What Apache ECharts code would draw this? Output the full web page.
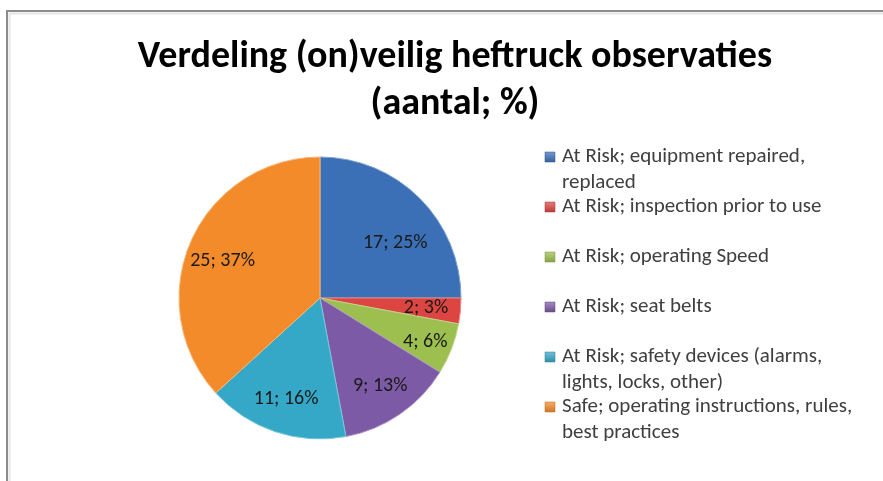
<!DOCTYPE html>
<html>
<head>
<meta charset="utf-8">
<script src="https://cdn.jsdelivr.net/npm/echarts@6/dist/echarts.min.js"></script>
<style>
  html, body { margin: 0; padding: 0; background: #fff; }
  #chart { width: 883px; height: 481px; }
</style>
</head>
<body>
<div id="chart"></div>
<script>
var titleLines = ['Verdeling (on)veilig heftruck observaties', '(aantal; %)'];
var categories = [
    'At Risk; equipment repaired,\nreplaced',
    'At Risk; inspection prior to use',
    'At Risk; operating Speed',
    'At Risk; seat belts',
    'At Risk; safety devices (alarms,\nlights, locks, other)',
    'Safe; operating instructions, rules,\nbest practices'
];
var counts = [17, 2, 4, 9, 11, 25];
var colors = ['#3b70b6', '#dc4541', '#9cbf4f', '#7d5aa5', '#35a8c7', '#f38b2a'];

var FONT = 'Carlito, "Liberation Sans Narrow", "Open Sans", sans-serif';

function shade(hex, f) {
    var n = parseInt(hex.slice(1), 16);
    var r = (n >> 16) & 255, g = (n >> 8) & 255, b = n & 255;
    function c(v) { return Math.max(0, Math.min(255, Math.round(f > 0 ? v + (255 - v) * f : v * (1 + f)))); }
    return 'rgb(' + c(r) + ',' + c(g) + ',' + c(b) + ')';
}

var myChart = echarts.init(document.getElementById('chart'));

var pieData = [];
for (var i = 0; i < categories.length; i++) {
    pieData.push({
        name: categories[i],
        value: counts[i],
        itemStyle: {color: colors[i], borderColor: shade(colors[i], 0.35)}
    });
}

// legend drawn as graphic so every entry keeps a fixed 50px pitch
var legendItems = [];
for (var j = 0; j < categories.length; j++) {
    var y0 = 157 + j * 50;
    legendItems.push({
        type: 'rect',
        shape: {x: 545, y: y0 - 5, width: 10, height: 10},
        style: {
            fill: {
                type: 'linear', x: 0, y: 0, x2: 0, y2: 1,
                colorStops: [
                    {offset: 0, color: shade(colors[j], 0.3)},
                    {offset: 1, color: shade(colors[j], -0.15)}
                ]
            },
            stroke: shade(colors[j], -0.25),
            lineWidth: 0.5
        }
    });
    legendItems.push({
        type: 'text',
        x: 562,
        y: y0 - 13,
        style: {
            text: categories[j],
            font: '21px ' + FONT,
            fill: '#404040',
            lineHeight: 26,
            verticalAlign: 'top'
        }
    });
}

var option = {
    animation: false,
    title: {
        text: titleLines.join('\n'),
        left: 450,
        textAlign: 'center',
        top: 29,
        textStyle: {
            fontFamily: FONT,
            fontSize: 38,
            fontWeight: 'bold',
            color: '#000',
            lineHeight: 47
        }
    },
    graphic: [
        {
            type: 'polyline',
            shape: {points: [[7, 481], [7, 11], [883, 11]]},
            style: {stroke: '#8c8c8c', lineWidth: 2, fill: null}
        },
        {
            type: 'polyline',
            shape: {points: [[9.5, 481], [9.5, 13.5], [883, 13.5]]},
            style: {stroke: '#e6e6e6', lineWidth: 2, fill: null}
        }
    ].concat(legendItems),
    series: [
        {
            name: 'observaties',
            type: 'pie',
            center: [320, 298],
            radius: [0, 141],
            startAngle: 90,
            clockwise: true,
            silent: true,
            percentPrecision: 0,
            label: {show: false},
            labelLine: {show: false},
            itemStyle: {borderWidth: 1},
            data: pieData
        },
        {
            // transparent ring only used to place the labels at ~0.72 r
            name: 'labels',
            type: 'pie',
            center: [320, 298],
            radius: [66, 141],
            startAngle: 90,
            clockwise: true,
            silent: true,
            percentPrecision: 0,
            itemStyle: {color: 'rgba(0,0,0,0)'},
            label: {
                show: true,
                position: 'inside',
                formatter: '{c}; {d}%',
                fontFamily: FONT,
                fontSize: 20,
                color: '#1a1a1a'
            },
            labelLayout: function (p) {
                // Excel "best fit" nudges
                if (p.dataIndex === 0) return {dy: 20};
                if (p.dataIndex === 2) return {dx: 6, dy: 6};
                if (p.dataIndex === 5) return {dy: 6};
                return {};
            },
            labelLine: {show: false},
            data: categories.map(function (c, k) { return {name: c, value: counts[k]}; })
        }
    ]
};
myChart.setOption(option);
</script>
</body>
</html>
